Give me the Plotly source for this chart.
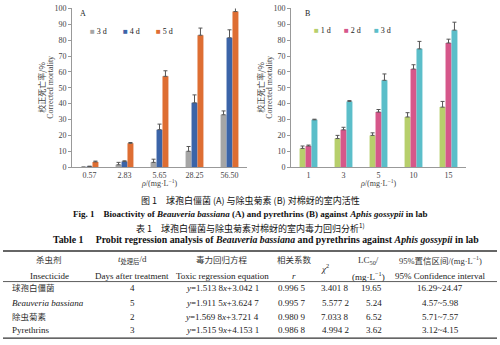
import plotly.graph_objects as go

W, H = 500, 345

# ---------------- data ----------------
conc_a = ["0.57", "2.83", "5.65", "28.25", "56.50"]
a_names = ["3 d", "4 d", "5 d"]
a_3d = [0.0, 1.5, 3.0, 10.0, 33.0]
a_3d_err = [0.0, 1.5, 2.0, 3.0, 2.4]
a_4d = [0.4, 3.5, 23.6, 40.5, 81.5]
a_4d_err = [0.2, 0.5, 3.5, 5.0, 5.0]
a_5d = [3.3, 15.0, 57.2, 83.1, 98.0]
a_5d_err = [0.5, 0.5, 3.5, 4.5, 3.5]

conc_b = ["1", "3", "5", "10", "15"]
b_names = ["1 d", "2 d", "3 d"]
b_1d = [11.8, 18.0, 20.0, 31.6, 37.8]
b_1d_err = [1.5, 2.0, 1.6, 2.7, 3.6]
b_2d = [13.3, 23.5, 34.7, 61.8, 78.2]
b_2d_err = [0.6, 1.6, 1.6, 2.7, 2.4]
b_3d = [29.8, 41.4, 54.7, 74.5, 86.3]
b_3d_err = [0.4, 0.5, 4.0, 4.7, 5.0]

y_ticks = [0, 10, 20, 30, 40, 50, 60, 70, 80, 90, 100]

tbl_insect = ["球孢白僵菌", "<i>Beauveria bassiana</i>", "除虫菊素", "Pyrethrins"]
tbl_days = ["4", "5", "2", "3"]
tbl_eq = ["<i>y</i>=1.513 8<i>x</i>+3.042 1", "<i>y</i>=1.911 5<i>x</i>+3.624 7",
          "<i>y</i>=1.569 8<i>x</i>+3.721 4", "<i>y</i>=1.515 9<i>x</i>+4.153 1"]
tbl_r = ["0.996 5", "0.995 7", "0.980 9", "0.986 8"]
tbl_chi = ["3.401 8", "5.577 2", "7.033 8", "4.994 2"]
tbl_lc = ["19.65", "5.24", "6.52", "3.62"]
tbl_ci = ["16.29~24.47", "4.57~5.98", "5.71~7.57", "3.12~4.15"]

hdr_cn = ["杀虫剂", "<i>t</i><sub>处理后</sub>/d", "毒力回归方程", "相关系数", "LC<sub>50</sub>/", "95%置信区间/(mg·L<sup>−1</sup>)"]
hdr_en = ["Insecticide", "Days after treatment", "Toxic regression equation", "<i>r</i>", "(mg·L<sup>−1</sup>)", "95% Confidence interval"]

col_a = ["#a6a6a6", "#3b64a8", "#de6e33"]
col_b = ["#b7cf6c", "#d6578a", "#5bbec9"]

SERIF = "Liberation Serif, Noto Sans CJK SC, serif"
CJK = "Noto Sans CJK SC, sans-serif"


def px(x):
    return x / W


def py(y):
    return 1 - y / H


fig = go.Figure()

for name, vals, err, c in zip(a_names, [a_3d, a_4d, a_5d], [a_3d_err, a_4d_err, a_5d_err], col_a):
    fig.add_trace(go.Bar(x=conc_a, y=vals, name=name, marker=dict(color=c, line=dict(width=0)),
                         error_y=dict(type="data", symmetric=False, array=err, arrayminus=[0] * len(err),
                                      color="#555555", thickness=1, width=2),
                         xaxis="x", yaxis="y", showlegend=False))

for name, vals, err, c in zip(b_names, [b_1d, b_2d, b_3d], [b_1d_err, b_2d_err, b_3d_err], col_b):
    fig.add_trace(go.Bar(x=conc_b, y=vals, name=name, marker=dict(color=c, line=dict(width=0)),
                         error_y=dict(type="data", symmetric=False, array=err, arrayminus=[0] * len(err),
                                      color="#555555", thickness=1, width=2),
                         xaxis="x2", yaxis="y2", showlegend=False))

ydom = [py(167.5), py(4.5)]
yax = dict(range=[0, 100], tickvals=y_ticks, showgrid=False, zeroline=False, showline=True,
           linecolor="#999999", linewidth=1, ticks="outside", ticklen=3, tickcolor="#999999",
           tickfont=dict(family=SERIF, size=8, color="#444444"), domain=ydom)
xax = dict(type="category", showgrid=False, zeroline=False, showline=True, linecolor="#999999",
           linewidth=1, ticks="", tickfont=dict(family=SERIF, size=8, color="#444444"))

fig.update_layout(
    width=W, height=H, margin=dict(l=0, r=0, t=0, b=0),
    paper_bgcolor="white", plot_bgcolor="white",
    barmode="group", bargap=0.49, bargroupgap=0,
    xaxis=dict(xax, domain=[px(72), px(247)], anchor="y"),
    yaxis=dict(yax, anchor="x"),
    xaxis2=dict(xax, domain=[px(291), px(466)], anchor="y2"),
    yaxis2=dict(yax, anchor="x2"),
)

ann = []


def text(x, y, s, size=9, family=SERIF, xanchor="center", color="#222222", angle=0):
    ann.append(dict(x=px(x), y=py(y), xref="paper", yref="paper", text=s, showarrow=False,
                    xanchor=xanchor, yanchor="middle", textangle=angle,
                    font=dict(family=family, size=size, color=color)))


# panel labels
text(83, 10, "A", 8)
text(307, 10, "B", 8)

# legends
for i, (n, c) in enumerate(zip(a_names, col_a)):
    text(88 + 33 * i, 28, '<span style="color:%s">■</span> %s' % (c, n), 8, xanchor="left")
for i, (n, c) in enumerate(zip(b_names, col_b)):
    text(312 + 30 * i, 27, '<span style="color:%s">■</span> %s' % (c, n), 8, xanchor="left")

# y titles
for x0 in (72, 291):
    text(x0 - 30, 86, "校正死亡率/%", 8, family=CJK, angle=-90, color="#444444")
    text(x0 - 21, 86, "Corrected mortality", 8, angle=-90, color="#444444")

# x titles
text(159, 184, "<i>ρ</i>/(mg·L<sup>−1</sup>)", 8, color="#444444")
text(378, 184, "<i>ρ</i>/(mg·L<sup>−1</sup>)", 8, color="#444444")

# captions
text(250, 202, "图 1　球孢白僵菌 (A) 与除虫菊素 (B) 对棉蚜的室内活性", 9, family=CJK, color="#111111")
text(250, 216, "<b>Fig. 1　Bioactivity of <i>Beauveria bassiana</i> (A) and pyrethrins (B) against <i>Aphis gossypii</i> in lab</b>", 9, color="#111111")
text(250, 230, "表 1　球孢白僵菌与除虫菊素对棉蚜的室内毒力回归分析<sup>1)</sup>", 9, family=CJK, color="#111111")
text(266, 242, "<b>Table 1　 Probit regression analysis of <i>Beauveria bassiana</i> and pyrethrins against <i>Aphis gossypii</i> in lab</b>", 9.8, color="#111111")

# table header
hdr_x = [49, 132, 222, 294, 368, 440]
hdr_cn_size = [8.5, 9, 8.5, 8.5, 9, 8.5]
for x, s, sz in zip(hdr_x, hdr_cn, hdr_cn_size):
    text(x, 263, s, sz, color="#333333")
for x, s in zip(hdr_x, hdr_en):
    text(x, 279, s, 9)
text(325, 271, "<i>χ</i><sup>2</sup>", 9)

# table body
row_y = [292, 307, 321.5, 335]
for i, yy in enumerate(row_y):
    is_cn = i in (0, 2)
    text(10, yy, tbl_insect[i], 8.5 if is_cn else 9, xanchor="left", color="#333333" if is_cn else "#222222")
    text(132, yy, tbl_days[i], 9)
    text(222, yy, tbl_eq[i], 9)
    text(292, yy, tbl_r[i], 9)
    text(335, yy, tbl_chi[i], 9)
    text(384, yy, tbl_lc[i], 9, xanchor="right")
    text(440, yy, tbl_ci[i], 9)

fig.update_layout(annotations=ann)

shapes = []
for yy, lw in [(253.5, 1.5), (285, 0.8), (343, 1.2)]:
    shapes.append(dict(type="line", xref="paper", yref="paper", x0=px(3), x1=px(497),
                       y0=py(yy), y1=py(yy), line=dict(color="#333333", width=lw)))
fig.update_layout(shapes=shapes)

fig.write_html("out.html")
